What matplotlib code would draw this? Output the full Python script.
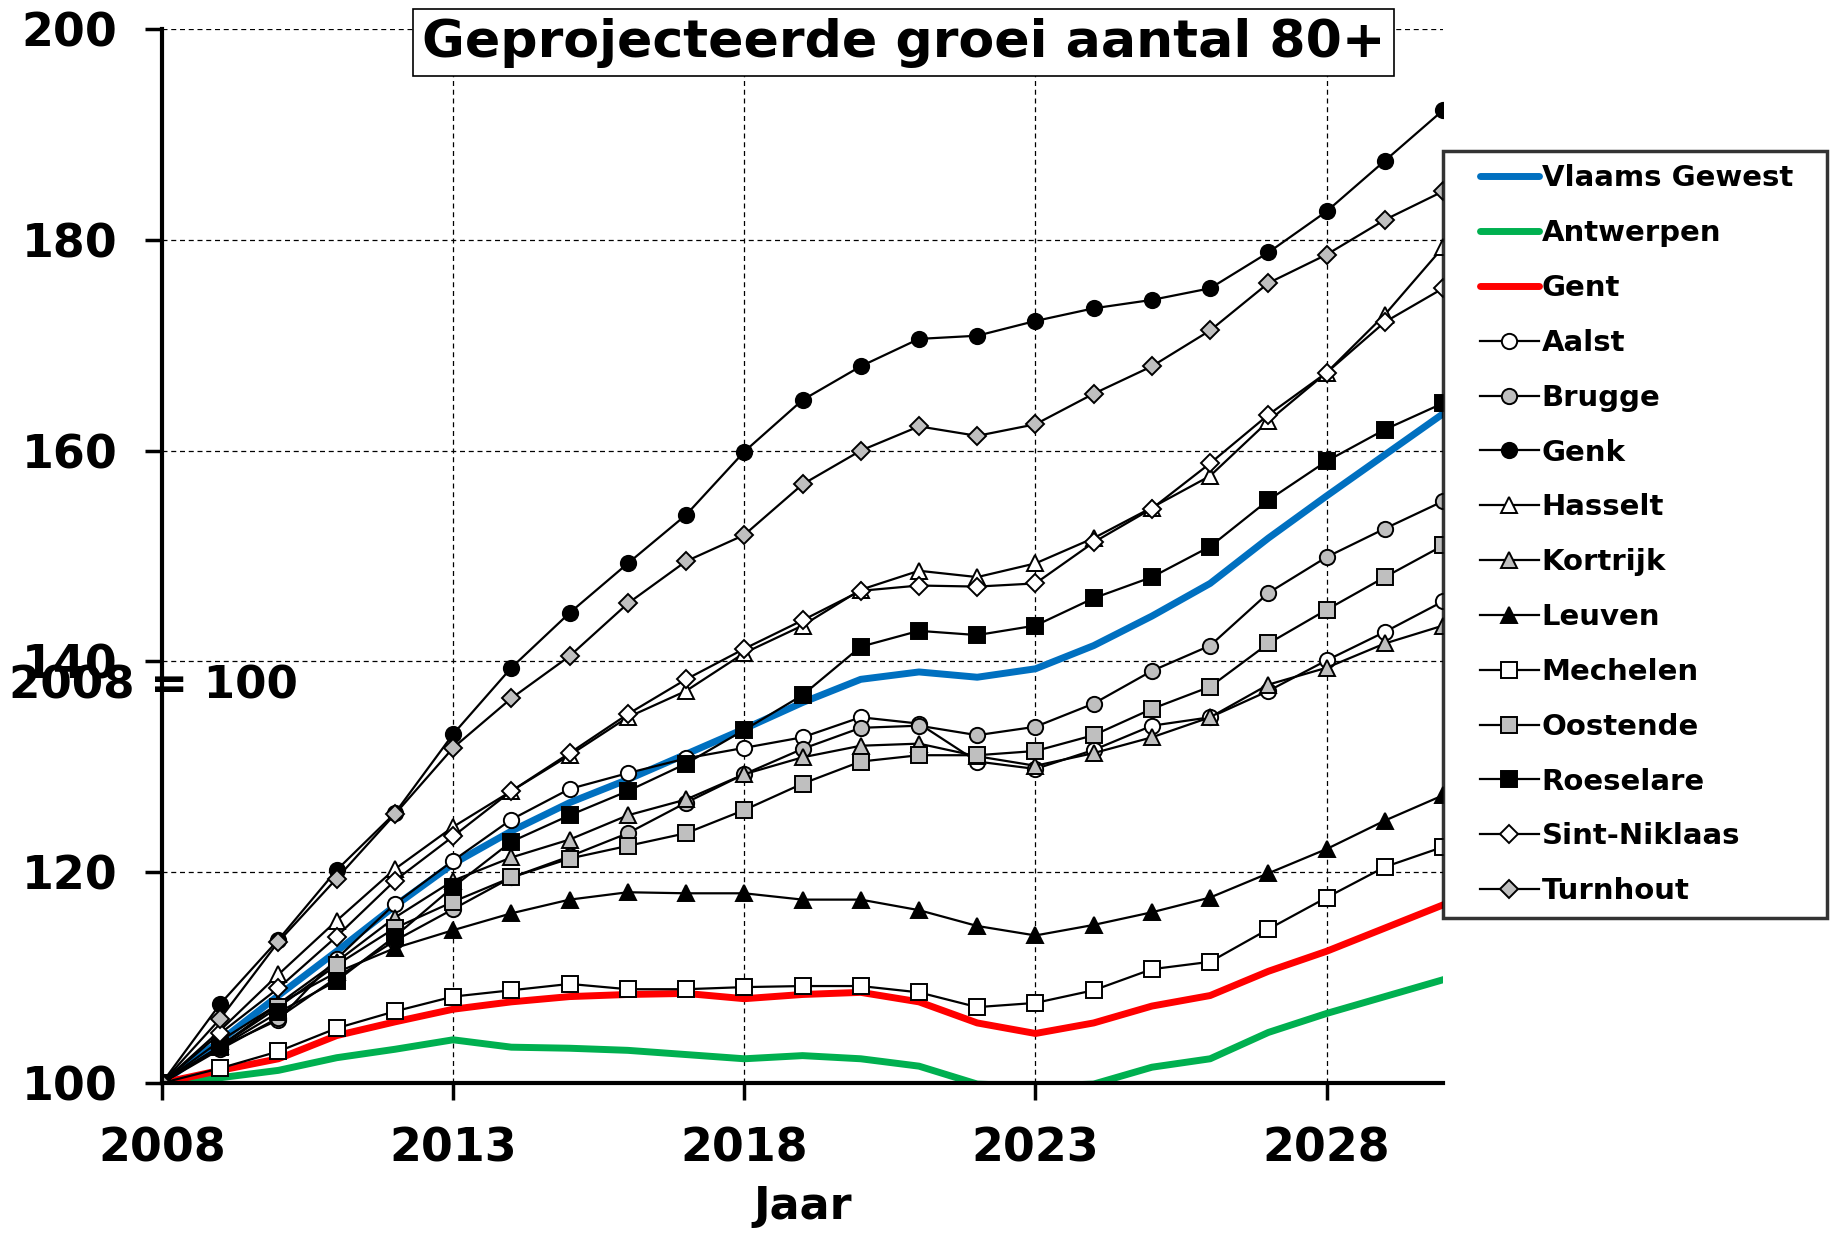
import matplotlib
matplotlib.use("Agg")
import matplotlib.pyplot as plt
from matplotlib.lines import Line2D
from matplotlib.legend_handler import HandlerLine2D

plt.rcParams['font.family'] = ['DejaVu Sans']
plt.rcParams['font.weight'] = 'bold'

years = list(range(2008, 2031))

# thick coloured series
vlaams_gewest = [100, 104.0, 108.3, 112.5, 116.8, 120.8, 123.9, 126.6, 128.8, 131.2, 133.6, 136.1, 138.3, 139.0, 138.5, 139.3,
                 141.5, 144.3, 147.4, 151.7, 155.7, 159.6, 163.5]
antwerpen = [100, 100.5, 101.2, 102.4, 103.2, 104.1, 103.4, 103.3, 103.1, 102.7, 102.3, 102.6, 102.3, 101.6, 99.9, 99.7,
             99.9, 101.5, 102.3, 104.8, 106.6, 108.2, 109.8]
gent = [100, 101.2, 102.3, 104.5, 105.8, 107.0, 107.7, 108.2, 108.4, 108.5, 108.0, 108.4, 108.6, 107.7, 105.7, 104.7,
        105.7, 107.3, 108.3, 110.6, 112.5, 114.7, 116.9]

# marker series
aalst = [100, 103.4, 106.0, 111.8, 117.0, 121.1, 125.0, 127.9, 129.4, 130.8, 131.8, 132.8, 134.7, 134.1, 130.5, 129.8,
         131.6, 133.9, 134.7, 137.2, 140.1, 142.8, 145.7]
brugge = [100, 103.2, 106.2, 110.0, 113.5, 116.5, 119.5, 121.5, 123.7, 126.6, 129.3, 131.7, 133.7, 133.9, 133.0, 133.8,
          136.0, 139.1, 141.5, 146.5, 149.9, 152.6, 155.2]
genk = [100, 107.5, 113.6, 120.2, 125.6, 133.1, 139.4, 144.6, 149.3, 153.9, 159.9, 164.8, 168.0, 170.6, 170.9, 172.3,
        173.5, 174.3, 175.4, 178.8, 182.7, 187.5, 192.3]
hasselt = [100, 105.0, 110.3, 115.4, 120.3, 124.3, 127.7, 131.1, 134.7, 137.2, 140.8, 143.4, 146.8, 148.6, 148.0, 149.3,
           151.7, 154.6, 157.6, 162.8, 167.4, 172.9, 179.3]
kortrijk = [100, 104.0, 107.5, 111.5, 115.7, 119.2, 121.4, 123.1, 125.4, 126.9, 129.3, 130.9, 132.0, 132.2, 131.0, 130.1,
            131.3, 132.8, 134.7, 137.8, 139.4, 141.7, 143.4]
leuven = [100, 103.5, 107.5, 110.5, 112.8, 114.5, 116.1, 117.4, 118.1, 118.0, 118.0, 117.4, 117.4, 116.4, 114.9, 114.0,
          115.0, 116.2, 117.6, 119.9, 122.2, 124.9, 127.3]
mechelen = [100, 101.4, 103.0, 105.2, 106.8, 108.2, 108.8, 109.4, 108.9, 108.9, 109.1, 109.2, 109.2, 108.6, 107.2, 107.6,
            108.8, 110.8, 111.5, 114.6, 117.6, 120.5, 122.4]
oostende = [100, 103.5, 107.2, 111.2, 114.7, 117.2, 119.5, 121.3, 122.5, 123.7, 125.9, 128.4, 130.5, 131.1, 131.1, 131.5,
            133.0, 135.5, 137.6, 141.7, 144.9, 148.0, 151.0]
roeselare = [100, 103.4, 106.7, 109.7, 113.9, 118.6, 122.9, 125.4, 127.7, 130.3, 133.5, 136.8, 141.4, 142.9, 142.5, 143.4,
             146.0, 148.0, 150.9, 155.3, 159.0, 162.0, 164.5]
sint_niklaas = [100, 104.7, 109.0, 113.9, 119.2, 123.4, 127.7, 131.3, 135.0, 138.3, 141.2, 143.9, 146.7, 147.2, 147.1, 147.4,
                151.3, 154.5, 158.8, 163.4, 167.4, 172.2, 175.4]
turnhout = [100, 106.1, 113.4, 119.4, 125.5, 131.8, 136.5, 140.5, 145.5, 149.5, 152.0, 156.8, 160.0, 162.3, 161.4, 162.5,
            165.4, 168.0, 171.4, 175.9, 178.6, 181.9, 184.6]

GRAY = '#BFBFBF'

fig = plt.figure(figsize=(18.36, 12.40), dpi=100)
ax = fig.add_axes([0.0882, 0.1266, 0.6978, 0.85])

ax.plot(years, vlaams_gewest, color='#0070C0', lw=5, label='Vlaams Gewest', zorder=2)
ax.plot(years, antwerpen, color='#00B050', lw=5, label='Antwerpen', zorder=2)
ax.plot(years, gent, color='#FF0000', lw=5, label='Gent', zorder=2)

# (label, data, marker, facecolor, size)
series = [
    ('Aalst', aalst, 'o', 'white', 11),
    ('Brugge', brugge, 'o', GRAY, 11),
    ('Genk', genk, 'o', 'black', 11),
    ('Hasselt', hasselt, '^', 'white', 12),
    ('Kortrijk', kortrijk, '^', GRAY, 12),
    ('Leuven', leuven, '^', 'black', 12),
    ('Mechelen', mechelen, 's', 'white', 11),
    ('Oostende', oostende, 's', GRAY, 11),
    ('Roeselare', roeselare, 's', 'black', 11),
    ('Sint-Niklaas', sint_niklaas, 'D', 'white', 9),
    ('Turnhout', turnhout, 'D', GRAY, 9),
]
for name, vals, m, fc, ms in series:
    ax.plot(years, vals, color='black', lw=1.6, marker=m, markersize=ms,
            markerfacecolor=fc, markeredgecolor='black', markeredgewidth=1.4,
            label=name, zorder=3)

ax.set_xlim(2008, 2030)
ax.set_ylim(100, 200)
ax.set_xticks([2008, 2013, 2018, 2023, 2028])
ax.set_yticks([100, 120, 140, 160, 180, 200])
ax.tick_params(labelsize=33, width=2.5, length=12, direction='out')
ax.tick_params(axis='x', pad=19)
ax.tick_params(axis='y', pad=20)
for lab in ax.get_xticklabels() + ax.get_yticklabels():
    lab.set_fontweight('bold')
ax.grid(True, color='black', ls=(0, (4, 3)), lw=0.9)
ax.set_axisbelow(True)
ax.spines['top'].set_visible(False)
ax.spines['right'].set_visible(False)
for s in ['left', 'bottom']:
    ax.spines[s].set_linewidth(3)
    ax.spines[s].set_zorder(5)

fig.text(0.492, 0.9657, 'Geprojecteerde groei aantal 80+', fontsize=37.5, fontweight='bold',
         ha='center', va='center',
         bbox=dict(boxstyle='square,pad=0.17', facecolor='white', edgecolor='black', lw=1.2))
fig.text(0.005, 0.447, '2008 = 100', fontsize=32.5, fontweight='bold', ha='left', va='center')
fig.text(0.437, 0.027, 'Jaar', fontsize=32, fontweight='bold', ha='center', va='center')

leg = fig.legend(loc='upper left', bbox_to_anchor=(0.786, 0.26, 0.209, 0.618), mode='expand',
                 frameon=True, fancybox=False, edgecolor='black', borderaxespad=0,
                 handlelength=2.83, handletextpad=0.1, labelspacing=0.92, borderpad=0.45,
                 prop={'weight': 'bold', 'size': 21},
                 handler_map={Line2D: HandlerLine2D(xpad=0.8)})
leg.get_frame().set_linewidth(2.5)
for h in leg.get_lines()[:3]:
    h.set_solid_capstyle('round')

fig.savefig('out.png', dpi=100)
